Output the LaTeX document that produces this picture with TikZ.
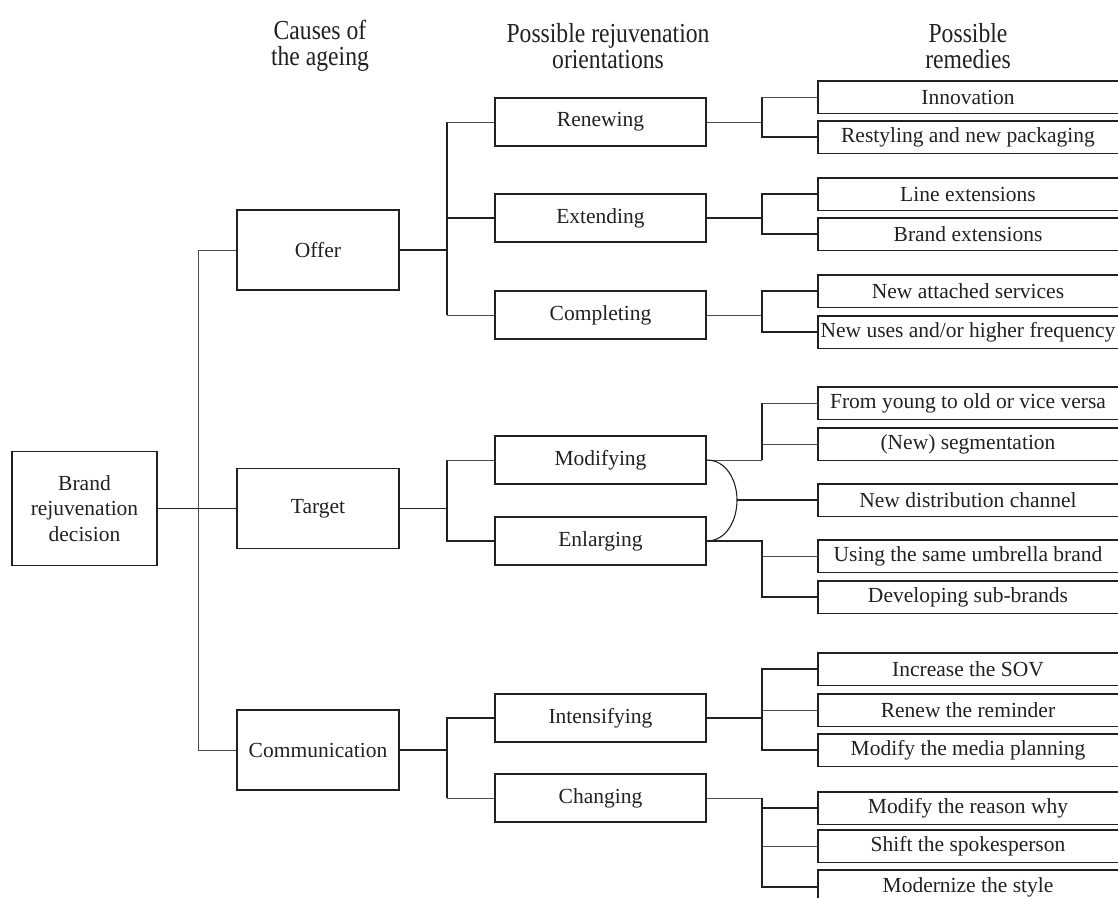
\documentclass[tikz,border=0pt]{standalone}
\usepackage{fontspec}
\setmainfont{Liberation Serif}
\newfontfamily\headfont[FakeStretch=0.86]{Liberation Serif}
\definecolor{ink}{gray}{0.13}
\definecolor{inklight}{gray}{0.30}
\begin{document}
\begin{tikzpicture}[x=1pt,y=-1pt,
  every node/.style={font=\fontsize{21.5}{25}\selectfont, inner sep=0pt, text=ink},
  framebox/.style={draw=ink, line width=1.4pt, rectangle},
  causebox/.style={framebox, minimum width=162pt, minimum height=80pt},
  orientbox/.style={framebox, minimum width=211pt, minimum height=48pt},
  remedy/.style={minimum width=300pt, minimum height=32pt},
  colhead/.style={font=\headfont\fontsize{27.5}{26.5}\selectfont, align=center},
  link/.style={draw=ink, line width=1.5pt},
  thinlink/.style={draw=inklight, line width=1pt}
]
\useasboundingbox (0,0) rectangle (1118,897);
\clip (0,0) rectangle (1118,897);

% column headings
\node[colhead] (hcause)  at (320,46) {Causes of\\the ageing};
\node[colhead] (horient) at (608,46) {Possible rejuvenation\\orientations};
\node[colhead] (hremedy) at (968,46) {Possible\\remedies};

% trunk positions
\coordinate (ctrunk) at (198,0);
\coordinate (otrunk) at (447,0);
\coordinate (rtrunk) at (762,0);

% decision
\node[framebox, line width=1.8pt, minimum width=145pt, minimum height=114pt, align=center,
      font=\fontsize{21.5}{25.5}\selectfont]
  (root) at (84.5,508.5) {\raisebox{-2pt}{}Brand\\rejuvenation\\decision};

% causes
\node[causebox] (offer)  at (318,250)   {Offer};
\node[causebox] (target) at (318,508.5) {Target};
\node[causebox] (comm)   at (318,750)   {Communication};

% orientations
\node[orientbox] (renew)    at (600.5,122) {Renewing};
\node[orientbox] (extend)   at (600.5,218) {Extending};
\node[orientbox] (complete) at (600.5,315) {Completing};
\node[orientbox] (modify)   at (600.5,460) {Modifying};
\node[orientbox] (enlarge)  at (600.5,541) {Enlarging};
\node[orientbox] (intens)   at (600.5,718) {Intensifying};
\node[orientbox] (change)   at (600.5,798) {Changing};

% remedies
\node[remedy] (innov)    at (968,97)  {Innovation};
\node[remedy] (restyle)  at (968,137) {Restyling and new packaging};
\node[remedy] (lineext)  at (968,194) {Line extensions};
\node[remedy] (brandext) at (968,234) {Brand extensions};
\node[remedy] (attached) at (968,291) {New attached services};
\node[remedy] (newuses)  at (968,332) {New uses and/or higher frequency};
\node[remedy] (young)    at (968,403) {From young to old or vice versa};
\node[remedy] (segment)  at (968,444) {(New) segmentation};
\node[remedy] (distrib)  at (968,500) {New distribution channel};
\node[remedy] (umbrella) at (968,556) {Using the same umbrella brand};
\node[remedy] (subbrand) at (968,597) {Developing sub-brands};
\node[remedy] (sov)      at (968,669) {Increase the SOV};
\node[remedy] (reminder) at (968,710) {Renew the reminder};
\node[remedy] (media)    at (968,750) {Modify the media planning};
\node[remedy] (reason)   at (968,808) {Modify the reason why};
\node[remedy] (spokes)   at (968,846) {Shift the spokesperson};
\node[remedy, minimum height=34pt] (style) at (968,887) {Modernize the style};

% remedy frames run past the right margin
\foreach \n in {innov,restyle,lineext,brandext,attached,newuses,young,segment,
                distrib,umbrella,subbrand,sov,reminder,media,reason,spokes,style}
  \draw[framebox] (\n.north west) rectangle ([xshift=30pt]\n.south east);

% decision -> causes
\draw[link] (root.east) -- (target.west);
\draw[thinlink] (offer.west) -- (offer.west -| ctrunk) -- (comm.west -| ctrunk) -- (comm.west);

% offer -> orientations
\draw[link] (offer.east) -- (offer.east -| otrunk);
\draw[link] (renew.west -| otrunk) -- (complete.west -| otrunk);
\draw[thinlink] (renew.west -| otrunk) -- (renew.west);
\draw[link] (extend.west -| otrunk) -- (extend.west);
\draw[thinlink] (complete.west -| otrunk) -- (complete.west);

% target -> orientations
\draw[link] (target.east) -- (target.east -| otrunk);
\draw[link] (modify.west -| otrunk) -- (enlarge.west -| otrunk) -- (enlarge.west);
\draw[thinlink] (modify.west -| otrunk) -- (modify.west);

% communication -> orientations
\draw[link] (comm.east) -- (comm.east -| otrunk);
\draw[link] (intens.west) -- (intens.west -| otrunk) -- (change.west -| otrunk);
\draw[thinlink] (change.west -| otrunk) -- (change.west);

% renewing
\draw[thinlink] (renew.east) -- (renew.east -| rtrunk);
\draw[link] (innov.west -| rtrunk) -- (restyle.west -| rtrunk) -- (restyle.west);
\draw[thinlink] (innov.west -| rtrunk) -- (innov.west);

% extending
\draw[link] (extend.east) -- (extend.east -| rtrunk);
\draw[link] (lineext.west) -- (lineext.west -| rtrunk) -- (brandext.west -| rtrunk) -- (brandext.west);

% completing
\draw[thinlink] (complete.east) -- (complete.east -| rtrunk);
\draw[link] (attached.west) -- (attached.west -| rtrunk) -- (newuses.west -| rtrunk) -- (newuses.west);

% modifying
\draw[thinlink] (modify.east) -- (modify.east -| rtrunk);
\draw[link] (modify.east -| rtrunk) -- (young.west -| rtrunk);
\draw[thinlink] (young.west -| rtrunk) -- (young.west);
\draw[thinlink] (segment.west -| rtrunk) -- (segment.west);

% shared remedy of modifying and enlarging
\coordinate (bulge) at (737,500);
\draw[draw=ink, line width=1.1pt] (modify.east) to[out=0,in=90] (bulge) to[out=-90,in=0] (enlarge.east);
\draw[link] (bulge) -- (distrib.west);

% enlarging
\draw[link] (enlarge.east) -- (enlarge.east -| rtrunk) -- (subbrand.west -| rtrunk) -- (subbrand.west);
\draw[thinlink] (umbrella.west -| rtrunk) -- (umbrella.west);

% intensifying
\draw[link] (intens.east) -- (intens.east -| rtrunk);
\draw[link] (sov.west) -- (sov.west -| rtrunk) -- (media.west -| rtrunk) -- (media.west);
\draw[thinlink] (reminder.west -| rtrunk) -- (reminder.west);

% changing
\draw[thinlink] (change.east) -- (change.east -| rtrunk);
\draw[link] (change.east -| rtrunk) -- (style.west -| rtrunk) -- (style.west);
\draw[link] (reason.west -| rtrunk) -- (reason.west);
\draw[thinlink] (spokes.west -| rtrunk) -- (spokes.west);
\end{tikzpicture}
\end{document}
